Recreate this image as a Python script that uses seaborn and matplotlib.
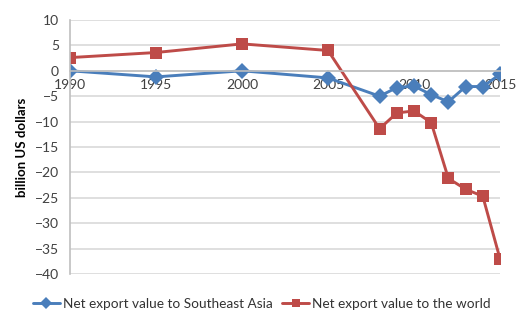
import numpy as np
import pandas as pd
import matplotlib
matplotlib.use("Agg")
import matplotlib.pyplot as plt
import seaborn as sns

years = [1990, 1995, 2000, 2005, 2008, 2009, 2010, 2011, 2012, 2013, 2014, 2015]
sea_values = [0.0, -1.2, 0.0, -1.4, -5.0, -3.3, -3.0, -4.7, -6.1, -3.1, -3.1, -0.7]
world_values = [2.6, 3.6, 5.3, 4.0, -11.4, -8.3, -7.9, -10.2, -21.2, -23.3, -24.7, -37.0]
series_names = ["Net export value to Southeast Asia", "Net export value to the world"]
y_ticks = [10, 5, 0, -5, -10, -15, -20, -25, -30, -35, -40]
x_ticks = [1990, 1995, 2000, 2005, 2010, 2015]

df = pd.DataFrame({
    "year": years * 2,
    "value": sea_values + world_values,
    "series": [series_names[0]] * len(years) + [series_names[1]] * len(years),
})

sns.set_style("white")
plt.rcParams["font.family"] = ["Lato", "DejaVu Sans"]

fig = plt.figure(figsize=(5.31, 3.31), dpi=100)
ax = fig.add_axes([70 / 531, 1 - 274 / 331, 430 / 531, 254 / 331])

palette = {series_names[0]: "#4A7EBB", series_names[1]: "#BE4B48"}
markers = {series_names[0]: "D", series_names[1]: "s"}
sns.lineplot(data=df, x="year", y="value", hue="series", style="series",
             palette=palette, markers=markers, dashes=False, ax=ax,
             linewidth=2.1, markersize=8, markeredgewidth=0, legend=True)

ax.set_xlim(1990, 2015)
ax.set_ylim(-40, 10)
ax.set_yticks(y_ticks)
ax.set_xticks(x_ticks)
ax.yaxis.grid(True, color="#D9D9D9", linewidth=1.2)
ax.xaxis.grid(False)
ax.set_axisbelow(True)

for s in ["top", "right"]:
    ax.spines[s].set_visible(False)
ax.spines["left"].set_color("#BFBFBF")
ax.spines["left"].set_linewidth(1.2)
ax.spines["bottom"].set_position(("data", 0))
ax.spines["bottom"].set_color("#BFBFBF")
ax.spines["bottom"].set_linewidth(1.2)

ax.tick_params(axis="y", length=4, color="#BFBFBF", labelsize=10, labelcolor="#404040", pad=4)
ax.tick_params(axis="x", length=4, direction="inout", color="#BFBFBF", labelsize=10,
               labelcolor="#404040", pad=4)

ax.set_xlabel("")
ax.set_ylabel("billion US dollars", fontsize=9.5, fontweight="bold", color="black", labelpad=5)

handles, labels = ax.get_legend_handles_labels()
if ax.legend_:
    ax.legend_.remove()
for h in handles:
    h.set_markersize(6)
fig.legend(handles, labels, loc="center", bbox_to_anchor=(0.493, 1 - 304 / 331), ncol=2,
           frameon=False, fontsize=9.8, handlelength=2.0, columnspacing=0.7,
           handletextpad=0.2, labelcolor="#333333")

fig.savefig("out.png", dpi=100)
